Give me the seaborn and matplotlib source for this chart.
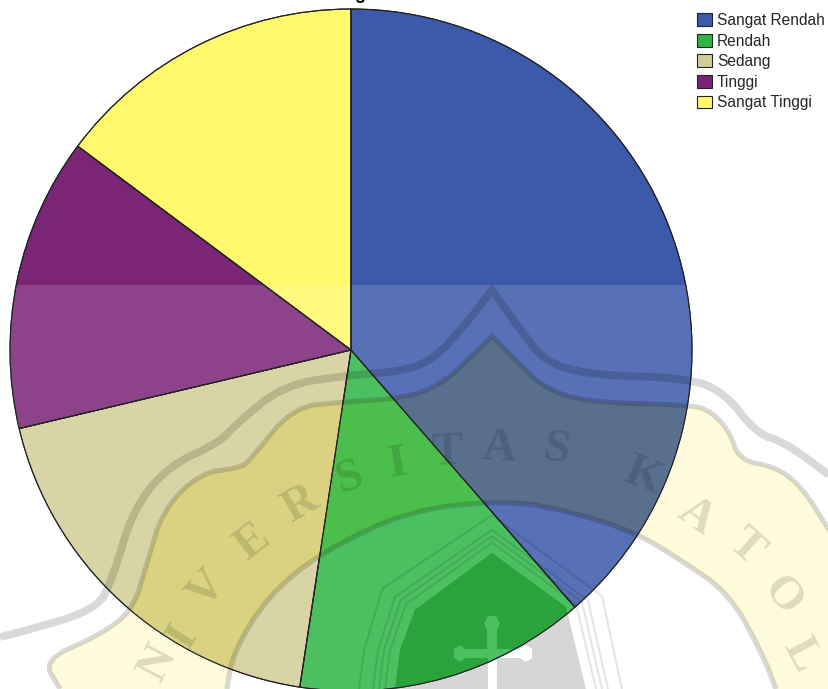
import matplotlib
matplotlib.use('Agg')
import matplotlib.pyplot as plt
from matplotlib.patches import PathPatch, Polygon, Rectangle, Wedge
from matplotlib.path import Path
import seaborn as sns
import numpy as np

# Pie data, in percent
categories = ['Sangat Rendah', 'Rendah', 'Sedang', 'Tinggi', 'Sangat Tinggi']
percent = [38.6, 13.8, 18.9, 13.9, 14.8]
slice_colors = ['#3D59A9', '#2FB646', '#D3CE97', '#7B2577', '#FFF96B']

# Watermark letters along the arch: letter, x, y (px from the top), rotation
crest_letters = ['N', 'I', 'V', 'E', 'R', 'S', 'I', 'T', 'A', 'S', 'K', 'A', 'T', 'O', 'L']
crest_x = [158, 183, 207, 253, 300, 350, 398, 447, 499, 556, 642, 696, 745, 782, 800]
crest_y = [664, 637, 590, 543, 505, 478, 465, 453, 449, 450, 477, 517, 547, 597, 655]
crest_rot = [62, 58, 48, 38, 30, 18, 10, 3, -3, -10, -22, -35, -42, -52, -62]

# Watermark outlines in image pixels
outer_band = [(0, 637), (17, 633), (97, 610), (113, 577), (133, 510), (167, 467), (220, 442),
              (233, 427), (283, 385), (350, 375), (405, 371), (435, 358), (465, 325), (492, 290),
              (522, 332), (545, 362), (590, 375), (689, 378), (725, 393), (756, 433), (786, 443),
              (829, 475)]
inner_band = [(60, 689), (43, 660), (100, 635), (133, 610), (147, 563), (163, 510), (200, 473),
              (240, 468), (250, 460), (293, 407), (343, 402), (405, 398), (440, 385), (468, 360),
              (492, 336), (520, 365), (545, 388), (585, 402), (689, 405), (709, 410), (729, 430),
              (739, 460), (776, 467), (802, 487), (829, 530)]
lower_arc = [(227, 689), (233, 653), (267, 597), (320, 553), (409, 510), (509, 500), (576, 513),
             (636, 533), (676, 557), (729, 593), (762, 653), (776, 689)]
shield = [(395, 689), (400, 650), (415, 610), (492, 553), (566, 607), (586, 689)]
cross = [(488, 689), (488, 658), (466, 658), (460, 662), (454, 658), (454, 649), (460, 645),
         (466, 649), (487, 649), (487, 630), (484, 624), (488, 616), (496, 616), (500, 624),
         (497, 630), (497, 649), (520, 649), (526, 645), (532, 649), (532, 658), (526, 662),
         (520, 658), (497, 658), (497, 689)]


def flip(points):
    # image pixels (y down) to axis coordinates (y up)
    pts = np.array(points, dtype=float)
    pts[:, 1] = 689 - pts[:, 1]
    return pts


def cut_corners(pts, rounds=2):
    for _ in range(rounds):
        q = 0.75 * pts[:-1] + 0.25 * pts[1:]
        r = 0.25 * pts[:-1] + 0.75 * pts[1:]
        mid = np.empty((len(q) * 2, 2))
        mid[0::2] = q
        mid[1::2] = r
        pts = np.vstack([pts[:1], mid, pts[-1:]])
    return pts


def smooth(points):
    # rounds the hand traced outline but keeps the point of the arch sharp
    pts = np.array(points, dtype=float)
    peak = np.argmin(pts[:, 1])
    return np.vstack([cut_corners(pts[:peak + 1]), cut_corners(pts[peak:])[1:]])


sns.set_theme(style='white')
plt.rcParams['font.family'] = ['Liberation Sans', 'DejaVu Sans']
palette = sns.color_palette(slice_colors)

fig = plt.figure(figsize=(8.29, 6.89), dpi=100)
ax = fig.add_axes([0, 0, 1, 1])

wedges, _ = ax.pie(percent, colors=palette, center=(351, 689 - 350), radius=341,
                   startangle=90, counterclock=False, frame=True,
                   wedgeprops=dict(edgecolor='#222222', linewidth=0.8, zorder=2))
ax.set_xlim(0, 829)
ax.set_ylim(0, 689)
ax.set_aspect('equal')
ax.axis('off')

# Legend top right
ax.legend(wedges, categories, loc='upper left', bbox_to_anchor=(697 / 829, 1 - 13 / 689),
          frameon=False, fontsize=11.2, handlelength=0.96, handleheight=0.9,
          handletextpad=0.32, labelspacing=0.36, borderpad=0, borderaxespad=0)

# Scrap of the cut off title
ax.text(360, 689 + 1, 'g', fontsize=13, fontweight='bold', color='black',
        ha='center', va='baseline', zorder=6)

# White scan band over the lower part of the page
veil = 0.14
ax.add_patch(Rectangle((0, 0), 829, 689 - 285, fc='white', alpha=veil, ec='none', zorder=3))

# Pale yellow part of the crest, multiplied into whatever lies below it
yellow_pts = np.vstack([flip(smooth(inner_band)), flip([(829, 689)]),
                        flip(cut_corners(np.array(lower_arc, dtype=float)))[::-1]])
ax.add_patch(Polygon(yellow_pts, closed=True, fc='#FFFBD8', ec='none', zorder=1))
for wedge, col in zip(wedges, palette):
    lit = np.array(col) * (1 - veil) + veil
    tint = lit * np.array([1.0, 0.99, 0.78])
    patch = Polygon(yellow_pts, closed=True, fc=tuple(tint), ec='none', zorder=3.5)
    ax.add_patch(patch)
    patch.set_clip_path(wedge)

# Grey parts of the crest: black with alpha works like a multiply
grey = dict(color='black', alpha=0.15, solid_capstyle='butt', solid_joinstyle='miter', zorder=4)
ln = smooth(outer_band)
ax.plot(*flip(ln).T, lw=5.6, **grey)
ln = smooth(inner_band)
ax.plot(*flip(ln).T, lw=3.6, **grey)
ln = cut_corners(np.array(lower_arc, dtype=float))
ax.plot(*flip(ln).T, lw=3.8, **grey)

# Shield with the cross left open
shield_pts = flip(shield)
cross_pts = flip(cross)[::-1]
verts = np.vstack([shield_pts, shield_pts[:1], cross_pts, cross_pts[:1]])
codes = ([Path.MOVETO] + [Path.LINETO] * (len(shield_pts) - 1) + [Path.CLOSEPOLY]
         + [Path.MOVETO] + [Path.LINETO] * (len(cross_pts) - 1) + [Path.CLOSEPOLY])
ax.add_patch(PathPatch(Path(verts, codes), fc='black', alpha=0.16, ec='none', zorder=4))
# inside the green slice the shield goes a cleaner dark green
inner_green = PathPatch(Path(verts, codes), fc='#2BA33C', ec='none', zorder=4.1)
ax.add_patch(inner_green)
inner_green.set_clip_path(wedges[1])

# Thin lines around the shield
for g in [10, 16, 22, 36]:
    ring = [(395 - g, 689), (400 - g, 650), (415 - 0.9 * g, 610 - 0.6 * g), (492, 553 - 1.05 * g),
            (566 + g, 607 - 0.3 * g), (586 + g, 689)]
    ax.plot(*flip(ring).T, color='black', alpha=0.1, lw=1.5, zorder=4)

# Crest lettering
for letter, x, y, rot in zip(crest_letters, crest_x, crest_y, crest_rot):
    ax.text(x, 689 - y, letter, family=['Liberation Serif', 'DejaVu Serif'], fontsize=34,
            fontweight='bold', rotation=rot, rotation_mode='anchor', ha='center', va='center',
            color='black', alpha=0.13, zorder=4)

# Slice outlines again, on top of the overlays
for wedge in wedges:
    ax.add_patch(Wedge(wedge.center, wedge.r, wedge.theta1, wedge.theta2,
                       fc='none', ec='#222222', lw=0.8, zorder=5))

fig.savefig('out.png', dpi=100)
